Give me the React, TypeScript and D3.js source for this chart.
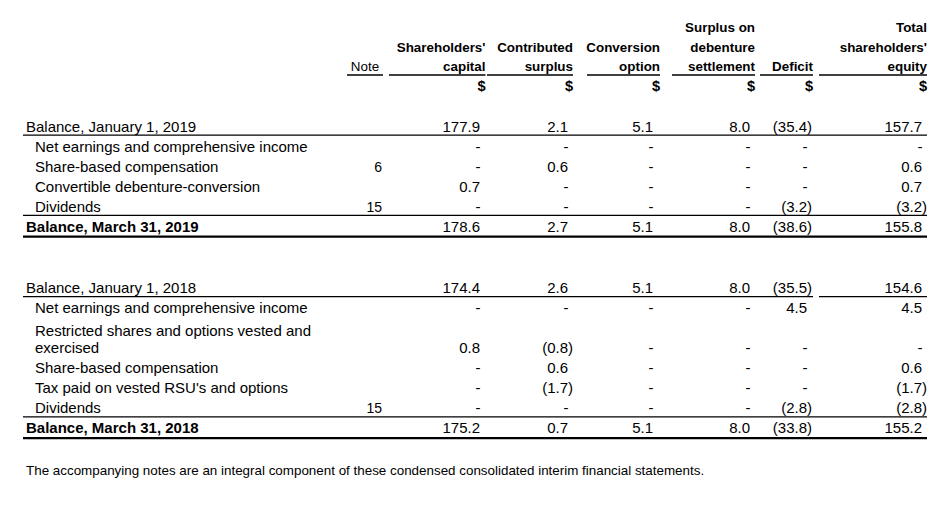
import React from "react";
import * as d3 from "d3";

// ---------- data ----------
const columnKeys = ["capital", "contributed", "conversion", "debenture", "deficit", "total"];
const columnHeaders: string[][] = [
  ["Shareholders'", "capital"],
  ["Contributed", "surplus"],
  ["Conversion", "option"],
  ["Surplus on", "debenture", "settlement"],
  ["Deficit"],
  ["Total", "shareholders'", "equity"],
];
const currencyLabel = "$";
const noteHeader = "Note";

const labels2019 = [
  "Balance, January 1, 2019",
  "Net earnings and comprehensive income",
  "Share-based compensation",
  "Convertible debenture-conversion",
  "Dividends",
  "Balance, March 31, 2019",
];
const notes2019 = ["", "", "6", "", "15", ""];
const capital2019 = [177.9, null, null, 0.7, null, 178.6];
const contributed2019 = [2.1, null, 0.6, null, null, 2.7];
const conversion2019 = [5.1, null, null, null, null, 5.1];
const debenture2019 = [8.0, null, null, null, null, 8.0];
const deficit2019 = [-35.4, null, null, null, -3.2, -38.6];
const total2019 = [157.7, null, 0.6, 0.7, -3.2, 155.8];

const labels2018 = [
  "Balance, January 1, 2018",
  "Net earnings and comprehensive income",
  "Restricted shares and options vested and|exercised",
  "Share-based compensation",
  "Tax paid on vested RSU's and options",
  "Dividends",
  "Balance, March 31, 2018",
];
const notes2018 = ["", "", "", "", "", "15", ""];
const capital2018 = [174.4, null, 0.8, null, null, null, 175.2];
const contributed2018 = [2.6, null, -0.8, 0.6, -1.7, null, 0.7];
const conversion2018 = [5.1, null, null, null, null, null, 5.1];
const debenture2018 = [8.0, null, null, null, null, null, 8.0];
const deficit2018 = [-35.5, 4.5, null, null, null, -2.8, -33.8];
const total2018 = [154.6, 4.5, null, 0.6, -1.7, -2.8, 155.2];

const footnote =
  "The accompanying notes are an integral component of these condensed consolidated interim financial statements.";

// ---------- layout ----------
const W = 950;
const H = 508;
const FONT = "'Liberation Sans', Arial, Helvetica, sans-serif";
const BODY = 15;
const HEAD = 13.4;

const valueRight = d3.scaleOrdinal<string, number>().domain(columnKeys).range([480, 568, 653, 750, 807, 922]);
const headRight = d3.scaleOrdinal<string, number>().domain(columnKeys).range([485.5, 573, 660, 755, 813, 927]);
const headLeft = d3.scaleOrdinal<string, number>().domain(columnKeys).range([389, 487, 587, 672, 760, 819]);
const headLineY = d3.scaleLinear().domain([0, 3]).range([32, 91]);

const fmt = d3.format(".1f");
const PAREN = 5;

const LEFT = 23;
const RIGHT = 927;
const TEXT_X = 26;
const INDENT_X = 35;
const NOTE_RIGHT = 382;

type Block = {
  labels: string[];
  notes: string[];
  cols: (number | null)[][];
  y0: number;
  splitTopLine: boolean;
};

const blocks: Block[] = [
  {
    labels: labels2019,
    notes: notes2019,
    cols: [capital2019, contributed2019, conversion2019, debenture2019, deficit2019, total2019],
    y0: 131.5,
    splitTopLine: false,
  },
  {
    labels: labels2018,
    notes: notes2018,
    cols: [capital2018, contributed2018, conversion2018, debenture2018, deficit2018, total2018],
    y0: 293,
    splitTopLine: true,
  },
];

function Cell({ v, x, y }: { v: number | null; x: number; y: number }) {
  if (v === null) {
    return (
      <text x={x + 0.5} y={y} textAnchor="end">
        -
      </text>
    );
  }
  if (v < 0) {
    return (
      <text x={x + PAREN} y={y} textAnchor="end">
        {`(${fmt(-v)})`}
      </text>
    );
  }
  return (
    <text x={x} y={y} textAnchor="end">
      {fmt(v)}
    </text>
  );
}

function BlockView({ b }: { b: Block }) {
  const step = 20;
  const ys: { first: number; last: number }[] = [];
  let y = b.y0;
  b.labels.forEach((lab, i) => {
    const n = lab.split("|").length;
    if (i > 0) y += step;
    if (n > 1) {
      const first = y + 2.5;
      y += step * (n - 1);
      ys.push({ first, last: y });
    } else {
      ys.push({ first: y, last: y });
    }
  });
  const last = b.labels.length - 1;
  const topLineY = ys[0].last + 3.7;
  const divLineY = ys[last - 1].last + 3.9;
  const botLineY = ys[last].last + 5.2;
  return (
    <g>
      {b.labels.map((lab, i) => {
        const parts = lab.split("|");
        const isBalance = i === 0 || i === last;
        const x = isBalance ? TEXT_X : INDENT_X;
        return (
          <g key={i}>
            {parts.map((p, j) => (
              <text
                key={j}
                x={x}
                y={j === 0 ? ys[i].first : ys[i].last}
                fontWeight={i === last ? "bold" : "normal"}
              >
                {p}
              </text>
            ))}
            {b.notes[i] && (
              <text x={NOTE_RIGHT} y={ys[i].last} textAnchor="end" fontSize={BODY - 1}>
                {b.notes[i]}
              </text>
            )}
            {columnKeys.map((k, c) => (
              <Cell key={k} v={b.cols[c][i]} x={valueRight(k)} y={ys[i].last} />
            ))}
          </g>
        );
      })}
      {b.splitTopLine ? (
        <>
          <line x1={LEFT} x2={headRight("deficit")} y1={topLineY} y2={topLineY} stroke="#000" strokeWidth={1.2} />
          <line x1={headLeft("total")} x2={RIGHT} y1={topLineY} y2={topLineY} stroke="#000" strokeWidth={1.2} />
        </>
      ) : (
        <line x1={LEFT} x2={RIGHT} y1={topLineY} y2={topLineY} stroke="#000" strokeWidth={1.2} />
      )}
      <line x1={LEFT} x2={RIGHT} y1={divLineY} y2={divLineY} stroke="#000" strokeWidth={1.2} />
      <line x1={LEFT} x2={RIGHT} y1={botLineY} y2={botLineY} stroke="#000" strokeWidth={2.2} />
    </g>
  );
}

export default function App() {
  return (
    <svg
      width={W}
      height={H}
      viewBox={`0 0 ${W} ${H}`}
      style={{ position: "absolute", left: 0, top: 0, background: "#fff" }}
      fontFamily={FONT}
      fontSize={BODY}
      fill="#000"
    >
      <rect width={W} height={H} fill="#fff" />
      {/* header */}
      <g fontSize={HEAD}>
        <text x={365} y={headLineY(2)} textAnchor="middle">
          {noteHeader}
        </text>
        <line x1={347} x2={383} y1={75} y2={75} stroke="#000" strokeWidth={1.3} />
        {columnKeys.map((k, c) => {
          const lines = columnHeaders[c];
          const offset = 3 - lines.length;
          return (
            <g key={k} fontWeight="bold">
              {lines.map((t, j) => (
                <text key={j} x={headRight(k)} y={headLineY(offset + j)} textAnchor="end">
                  {t}
                </text>
              ))}
              <line x1={headLeft(k)} x2={headRight(k)} y1={75} y2={75} stroke="#000" strokeWidth={1.3} />
              <text x={headRight(k)} y={headLineY(3)} textAnchor="end" fontSize={HEAD + 1.2}>
                {currencyLabel}
              </text>
            </g>
          );
        })}
      </g>
      {blocks.map((b, i) => (
        <BlockView key={i} b={b} />
      ))}
      <text x={TEXT_X} y={474.5} fontSize={13.4}>
        {footnote}
      </text>
    </svg>
  );
}
